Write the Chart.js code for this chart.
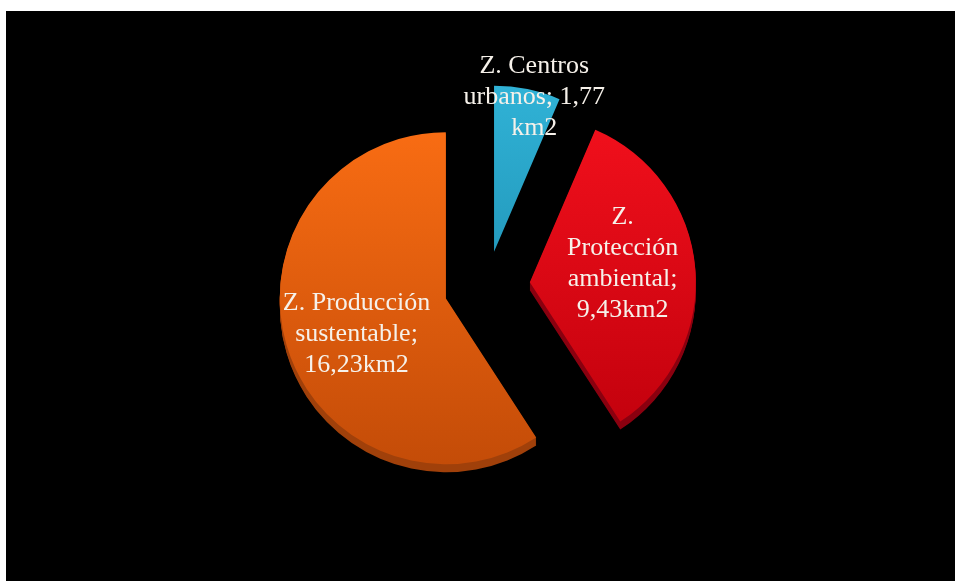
<!DOCTYPE html>
<html>
<head>
<meta charset="utf-8">
<script src="https://cdn.jsdelivr.net/npm/chart.js@4/dist/chart.umd.min.js"></script>
<style>
  html, body { margin: 0; padding: 0; background: #fff; width: 955px; height: 581px; overflow: hidden; }
  #wrap { position: absolute; left: 6px; top: 11px; width: 949px; height: 570px; background: #000; }
  canvas { display: block; }
</style>
</head>
<body>
<div id="wrap"><canvas id="zonas" width="949" height="570"></canvas></div>
<script>
// Superficie por zona (km2)
const zones = ['Z. Centros urbanos', 'Z. Protección ambiental', 'Z. Producción sustentable'];
const areasKm2 = [1.77, 9.43, 16.23];

const fmt = v => v.toFixed(2).replace('.', ',');

// Label lines as they wrap inside each slice
const labelLines = [
  ['Z. Centros', 'urbanos; ' + fmt(areasKm2[0]), 'km2'],
  ['Z.', 'Protección', 'ambiental;', fmt(areasKm2[1]) + 'km2'],
  ['Z. Producción', 'sustentable;', fmt(areasKm2[2]) + 'km2']
];

// Styling
const pullOut = [35, 43, 43];          // explode distance per slice (px)
const sideDepth = [0, 8, 8];           // thickness of the 3D rim per slice
const faceColors = [['#30b2d6', '#1884a6'], ['#f2101c', '#c0000c'], ['#f86c13', '#c44c08']];
const sideColors = ['#116a84', '#8a000f', '#a0400a'];
const labelDist = [0.96, 0.57, 0.58];  // fraction of radius from slice apex
const labelTurn = [3, -6.5, -5.5];     // degrees, clockwise
const pieRadius = 166;

function faceFill(c) {
  const chart = c.chart;
  const area = chart.chartArea;
  const i = c.dataIndex;
  if (!area || i === undefined) return faceColors[0][0];
  const cy = (area.top + area.bottom) / 2;
  const g = chart.ctx.createLinearGradient(0, cy - pieRadius, 0, cy + pieRadius);
  g.addColorStop(0, faceColors[i][0]);
  g.addColorStop(1, faceColors[i][1]);
  return g;
}

const explodedPie = {
  id: 'explodedPie',
  beforeDatasetDraw(chart, args) {
    const ctx = chart.ctx;
    const arcs = args.meta.data;
    const shift = (arc, i) => {
      const mid = (arc.startAngle + arc.endAngle) / 2;
      return [Math.cos(mid) * pullOut[i], Math.sin(mid) * pullOut[i]];
    };
    // rim (side) first
    arcs.forEach((arc, i) => {
      const [dx, dy] = shift(arc, i);
      const saved = arc.options;
      arc.options = Object.assign({}, saved, { backgroundColor: sideColors[i], borderWidth: 0 });
      for (let k = 1; k <= sideDepth[i]; k++) {
        ctx.save();
        ctx.translate(dx, dy + k);
        arc.draw(ctx);
        ctx.restore();
      }
      arc.options = saved;
    });
    // top faces
    arcs.forEach((arc, i) => {
      const [dx, dy] = shift(arc, i);
      ctx.save();
      ctx.translate(dx, dy);
      arc.draw(ctx);
      ctx.restore();
    });
    return false;
  },
  afterDatasetsDraw(chart) {
    const ctx = chart.ctx;
    const arcs = chart.getDatasetMeta(0).data;
    ctx.save();
    ctx.font = '26px "Liberation Serif", "Times New Roman", serif';
    ctx.fillStyle = '#f6f1ea';
    ctx.textAlign = 'center';
    ctx.textBaseline = 'middle';
    const lh = 31;
    arcs.forEach((arc, i) => {
      const mid = (arc.startAngle + arc.endAngle) / 2;
      const ax = arc.x + Math.cos(mid) * pullOut[i];
      const ay = arc.y + Math.sin(mid) * pullOut[i];
      const a = mid + labelTurn[i] * Math.PI / 180;
      const d = labelDist[i] * arc.outerRadius;
      const x = ax + Math.cos(a) * d;
      const y = ay + Math.sin(a) * d;
      const lines = labelLines[i];
      lines.forEach((t, j) => {
        ctx.fillText(t, x, y + (j - (lines.length - 1) / 2) * lh);
      });
    });
    ctx.restore();
  }
};

new Chart(document.getElementById('zonas'), {
  type: 'pie',
  data: {
    labels: zones,
    datasets: [{
      data: areasKm2,
      backgroundColor: faceFill,
      borderWidth: 0
    }]
  },
  options: {
    responsive: false,
    animation: false,
    radius: pieRadius,
    layout: { padding: { left: 13, bottom: 20 } },
    plugins: {
      legend: { display: false },
      tooltip: { enabled: false }
    }
  },
  plugins: [explodedPie]
});
</script>
</body>
</html>
